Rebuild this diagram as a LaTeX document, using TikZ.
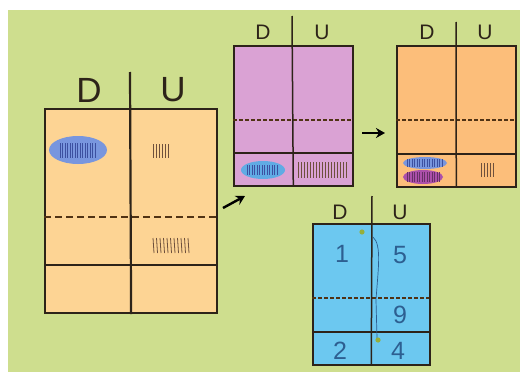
\documentclass[tikz,border=0pt]{standalone}
\usepackage{fontspec}
\setmainfont{Liberation Sans}
\usetikzlibrary{arrows.meta}
\definecolor{bggreen}{RGB}{206,222,142}
\definecolor{mainfill}{RGB}{253,212,148}
\definecolor{orangefill}{RGB}{252,190,122}
\definecolor{purplefill}{RGB}{218,162,212}
\definecolor{bluefill}{RGB}{108,200,240}
\definecolor{edge}{RGB}{45,35,25}
\definecolor{dashc}{RGB}{80,50,20}
\definecolor{ellblue}{RGB}{120,150,222}
\definecolor{hatchblue}{RGB}{60,80,160}
\definecolor{ellpurple}{RGB}{172,80,170}
\definecolor{tally}{RGB}{110,80,60}
\definecolor{digit}{RGB}{45,95,145}
\definecolor{dotgreen}{RGB}{150,175,60}
\begin{document}
\begin{tikzpicture}[x=1pt,y=-1pt,
  bigbox/.style={draw=edge, line width=2.2pt, inner sep=0pt, anchor=north west},
  smallbox/.style={draw=edge, line width=1.6pt, inner sep=0pt, anchor=north west},
  bigline/.style={draw=edge, line width=2.2pt},
  smallline/.style={draw=edge, line width=1.5pt},
  bigdash/.style={draw=dashc, line width=2.5pt, dash pattern=on 7pt off 4pt},
  smalldash/.style={draw=dashc, line width=1.4pt, dash pattern=on 3.5pt off 2.5pt},
  biglab/.style={font=\fontsize{35}{35}\selectfont, text=edge, inner sep=0pt},
  smalllab/.style={font=\fontsize{21}{21}\selectfont, text=edge, inner sep=0pt},
  dig/.style={font=\fontsize{25}{25}\selectfont, text=digit, inner sep=0pt},
  tallyline/.style={draw=tally, line width=0.8pt},
  hatch/.style={draw=hatchblue, line width=0.7pt},
  arr/.style={draw=black, line width=2.4pt, -{Stealth[length=9pt,width=10pt]}}]
\useasboundingbox (0,0) rectangle (520,372);
\fill[white] (0,0) rectangle (520,372);
\fill[bggreen] (8,10) rectangle (520,372);

% ---------- main box ----------
\node[bigbox, fill=mainfill, minimum width=172pt, minimum height=204pt] (main) at (44,108) {};
\draw[bigdash] (44,217) -- (216,217);
\draw[bigline] (44,265) -- (216,265);
\draw[bigline] (130,72) -- (main.south);
\node[biglab] (mD) at (89,90) {D};
\node[biglab] (mU) at (173,90) {U};
\fill[ellblue] (78,150) ellipse (29pt and 14pt);
\foreach \x in {60,62.5,...,97} \draw[hatch] (\x,143) -- (\x,158);
\foreach \x in {153,156,...,170} \draw[tallyline] (\x,144) -- (\x,158);
\foreach \x in {153,156.5,...,189} \draw[tallyline] (\x,238) -- (\x+1,253);

% ---------- purple box ----------
\node[smallbox, fill=purplefill, minimum width=119pt, minimum height=140pt] (pbox) at (233,45) {};
\draw[smalldash] (233,120) -- (352,120);
\draw[smallline] (233,153) -- (352,153);
\draw[smallline] (292,16) -- (pbox.south);
\node[smalllab] (pD) at (263,32) {D};
\node[smalllab] (pU) at (322,32) {U};
\fill[ellblue!80!cyan] (263,170) ellipse (22pt and 9pt);
\foreach \x in {247,249.5,...,279} \draw[hatch] (\x,165) -- (\x,175);
\foreach \x in {298,301,...,347} \draw[tallyline] (\x,162) -- (\x,178);

% ---------- orange box ----------
\node[smallbox, fill=orangefill, minimum width=119pt, minimum height=141pt] (obox) at (396,45) {};
\draw[smalldash] (396,120) -- (515,120);
\draw[smallline] (396,154) -- (515,154);
\draw[smallline] (456,22) -- (obox.south);
\node[smalllab] (oD) at (427,32) {D};
\node[smalllab] (oU) at (485,32) {U};
\fill[ellpurple] (423,177) ellipse (20pt and 7pt);
\foreach \x in {407,409.5,...,440} \draw[draw=ellpurple!60!black, line width=0.7pt] (\x,172) -- (\x,182);
\fill[ellblue] (425,163) ellipse (22pt and 6pt);
\foreach \x in {407,409.5,...,443} \draw[hatch] (\x,159) -- (\x,167);
\foreach \x in {481,484,...,494} \draw[tallyline] (\x,163) -- (\x,177);

% ---------- blue box ----------
\node[smallbox, fill=bluefill, minimum width=117pt, minimum height=141pt] (bbox) at (312,223) {};
\draw[smalldash] (312,298) -- (429,298);
\draw[smallline] (312,332) -- (429,332);
\draw[smallline] (372,196) -- (bbox.south);
\node[smalllab] (bD) at (340,212) {D};
\node[smalllab] (bU) at (400,212) {U};
\node[dig] (d1) at (342,254) {1};
\node[dig] (d5) at (400,255) {5};
\node[dig] (d9) at (400,315) {9};
\node[dig] (d2) at (340,351) {2};
\node[dig] (d4) at (398,351) {4};
\draw[draw=digit, line width=0.7pt] (373,237) .. controls (382,245) and (378,270) .. (376,300) -- (377,338);
\fill[dotgreen] (362,232) circle (2.6pt);
\fill[dotgreen] (378,340) circle (2.6pt);

% ---------- arrows ----------
\coordinate (a1s) at (223,208);
\coordinate (a1e) at (245,196);
\draw[arr] (a1s) -- (a1e);
\coordinate (a2s) at (362,133);
\coordinate (a2e) at (385,133);
\draw[arr] (a2s) -- (a2e);
\end{tikzpicture}
\end{document}
